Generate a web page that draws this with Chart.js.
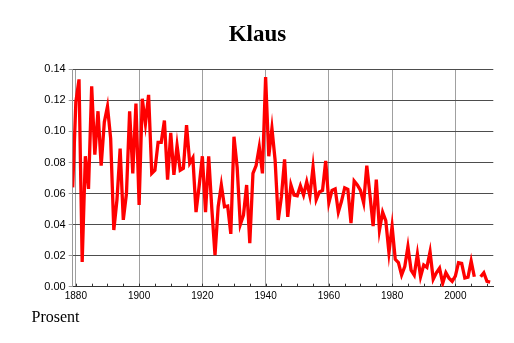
<!DOCTYPE html>
<html>
<head>
<meta charset="utf-8">
<script src="https://cdn.jsdelivr.net/npm/chart.js@4"></script>
<style>
  html, body { margin: 0; padding: 0; background: #fff; }
  #wrap { position: relative; width: 514px; height: 343px; }
  #title {
    position: absolute; left: 0; width: 515px; top: 21.7px;
    text-align: center; font: bold 23px/1 "Liberation Serif", "Times New Roman", serif; color: #000;
  }
  #unit {
    position: absolute; left: 31.5px; top: 309px;
    font: 16px/1 "Liberation Serif", "Times New Roman", serif; color: #000;
  }
  canvas { position: absolute; left: 0; top: 0; }
</style>
</head>
<body>
<div id="wrap">
  <canvas id="chart" width="514" height="343"></canvas>
  <div id="title">Klaus</div>
  <div id="unit">Prosent</div>
</div>
<script>
// ---- data: share of newborns named Klaus, per year ----
const START_YEAR = 1879;
const share = [
  0.064,                                                                  // 1879
  0.119, 0.1335, 0.016, 0.084, 0.063, 0.129, 0.085, 0.113, 0.078, 0.106,  // 1880s
  0.116, 0.0955, 0.0365, 0.056, 0.089, 0.043, 0.060, 0.113, 0.073, 0.118, // 1890s
  0.0526, 0.121, 0.105, 0.1235, 0.073, 0.075, 0.093, 0.093, 0.107, 0.069, // 1900s
  0.099, 0.072, 0.091, 0.075, 0.0762, 0.104, 0.0795, 0.083, 0.048, 0.065, // 1910s
  0.084, 0.048, 0.084, 0.050, 0.0204, 0.0515, 0.0655, 0.0515, 0.052, 0.034, // 1920s
  0.0966, 0.077, 0.040, 0.046, 0.0655, 0.028, 0.073, 0.078, 0.090, 0.073, // 1930s
  0.135, 0.084, 0.102, 0.0815, 0.043, 0.058, 0.082, 0.045, 0.0655, 0.059, // 1940s
  0.0585, 0.065, 0.059, 0.0675, 0.0585, 0.077, 0.056, 0.061, 0.062, 0.081, // 1950s
  0.054, 0.062, 0.063, 0.048, 0.055, 0.0637, 0.0627, 0.041, 0.068, 0.0655, // 1960s
  0.062, 0.054, 0.078, 0.059, 0.039, 0.069, 0.0365, 0.048, 0.0425, 0.022, // 1970s
  0.039, 0.0176, 0.0155, 0.0075, 0.0129, 0.0258, 0.0107, 0.0075, 0.021, 0.0064, // 1980s
  0.014, 0.0125, 0.0225, 0.0048, 0.009, 0.012, 0.0022, 0.009, 0.0055, 0.0035, // 1990s
  0.0068, 0.0155, 0.015, 0.0056, 0.0061, 0.0165, 0.0064, null, 0.0064, 0.009, // 2000s
  0.0035, 0.003                                                           // 2010-2011
];
const years = share.map((_, i) => START_YEAR + i);

const xLabelYears = [1880, 1900, 1920, 1940, 1960, 1980, 2000];
const xMinorYears = [1880, 1885, 1890, 1895, 1900, 1905, 1910, 1915, 1920, 1925, 1930, 1935,
                     1940, 1945, 1950, 1955, 1960, 1965, 1970, 1975, 1980, 1985, 1990, 1995,
                     2000, 2005, 2010];
const yTicks = [0, 0.02, 0.04, 0.06, 0.08, 0.10, 0.12, 0.14];

// plot box in the reference
const AREA = { left: 72.7, right: 493.3, top: 69.3, bottom: 286.7 };

const innerTicks = {
  id: 'innerTicks',
  beforeDatasetsDraw(chart) {
    const x = chart.scales.x, c = chart.ctx;
    c.save();
    c.strokeStyle = '#333';
    c.lineWidth = 1;
    xMinorYears.forEach(v => {
      const px = Math.round(x.getPixelForValue(v)) + 0.5;
      c.beginPath();
      c.moveTo(px, AREA.bottom);
      c.lineTo(px, AREA.bottom - 3);
      c.stroke();
    });
    c.restore();
  }
};

new Chart(document.getElementById('chart'), {
  type: 'line',
  data: {
    datasets: [{
      data: share.map((v, i) => ({ x: years[i], y: v })),
      borderColor: '#ff0000', borderWidth: 3.3,
      pointRadius: 0, tension: 0, spanGaps: false, fill: false,
    }],
  },
  options: {
    responsive: false, animation: false,
    layout: { padding: { left: 0, right: 514 - AREA.right, top: AREA.top, bottom: 0 } },
    plugins: { legend: { display: false }, tooltip: { enabled: false } },
    scales: {
      x: {
        type: 'linear', min: START_YEAR, max: 2012,
        afterBuildTicks: s => { s.ticks = xLabelYears.map(v => ({ value: v })); },
        afterFit: s => { s.height = 343 - AREA.bottom; },
        ticks: {
          autoSkip: false, maxRotation: 0, padding: 3.5,
          color: '#000', font: { family: '"Liberation Sans", Arial, sans-serif', size: 10 },
          callback: v => String(v),
        },
        grid: { color: '#a0a0a0', lineWidth: 1, drawTicks: false },
        border: { display: true, color: '#333', width: 1 },
      },
      y: {
        min: 0, max: 0.14,
        afterBuildTicks: s => { s.ticks = yTicks.map(v => ({ value: v })); },
        afterFit: s => { s.width = AREA.left; },
        ticks: {
          padding: 3,
          color: '#000', font: { family: '"Liberation Sans", Arial, sans-serif', size: 11 },
          callback: v => v.toFixed(2),
        },
        grid: { color: '#4d4d4d', lineWidth: 1, drawTicks: true, tickLength: 4, tickColor: '#999' },
        border: { display: true, color: '#999', width: 1 },
      },
    },
  },
  plugins: [innerTicks],
});
</script>
</body>
</html>
